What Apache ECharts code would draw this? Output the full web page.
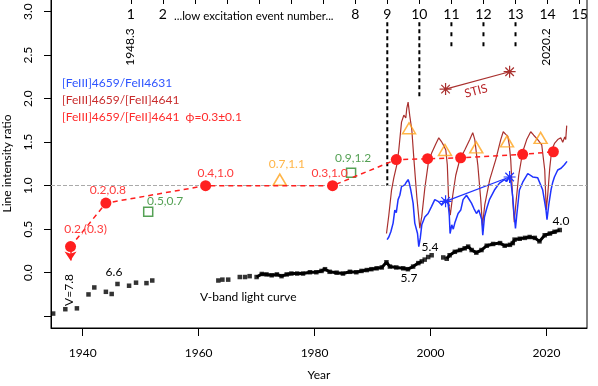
<!DOCTYPE html>
<html>
<head>
<meta charset="utf-8">
<script src="https://cdn.jsdelivr.net/npm/echarts@6/dist/echarts.min.js"></script>
<style>
  html, body { margin: 0; padding: 0; background: #fff; }
  #chart { width: 598px; height: 386px; }
</style>
</head>
<body>
<div id="chart"></div>
<script>
// top axis: low excitation event numbers, pinned by the two labelled epochs
var event1Year = 1948.3;
var event14Year = 2020.2;
var eventNumbers = [1, 2, 3, 4, 5, 6, 7, 8, 9, 10, 11, 12, 13, 14, 15];
var eventLabelNumbers = [1, 2, 8, 9, 10, 11, 12, 13, 14, 15];
var eventLineLong = [9, 10];
var eventLineLongBottom = [1.0, 2.02];
var eventLineShort = [11, 12, 13];
var eventLineShortBottom = [2.54, 2.54, 2.54];
var eventLineTop = 2.88;

var yearTicks = [1940, 1960, 1980, 2000, 2020];
var ratioTicks = [-0.5, 0, 0.5, 1, 1.5, 2, 2.5, 3];
var ratioLabels = [0, 0.5, 1, 1.5, 2, 2.5, 3];

// [FeIII]4659/[FeII]4641 at phase 0.3
var redYears = [1937.9, 1944.0, 1961.2, 1983.1, 1994.1, 1999.5, 2005.2, 2015.9, 2021.2];
var redRatio = [0.30, 0.80, 1.00, 1.00, 1.30, 1.31, 1.32, 1.36, 1.39];
var redLabels = ['0.2,(0.3)', '0.2,0.8', '0.4,1.0', '0.3,1.0', '', '', '', '', ''];

var greenYears = [1951.3, 1986.3];
var greenRatio = [0.70, 1.15];
var greenLabels = ['0.5,0.7', '0.9,1.2'];

var orangeYears = [1974.0, 1996.3, 2002.5, 2007.9, 2013.2, 2019.0];
var orangeRatio = [1.07, 1.66, 1.41, 1.44, 1.51, 1.55];
var orangeLabels = ['0.7,1.1', '', '', '', '', ''];

var stisYears = [2002.6, 2013.65];
var stisBlue = [0.82, 1.10];
var stisBrown = [2.11, 2.31];

// [FeIII]4659/[FeII]4641
var brownYears = [1992.41,1992.81,1993.28,1993.67,1994.19,1994.53,1995.00,1995.40,1995.74,1995.91,
  1996.14,1996.43,1996.78,1997.12,1997.64,1998.16,1998.50,1999.02,1999.62,2000.22,
  2000.91,2001.43,2001.86,2002.29,2002.64,2002.90,2003.16,2003.41,2003.84,2004.36,
  2005.05,2005.91,2006.78,2007.29,2007.64,2008.16,2008.67,2008.97,2009.36,2010.22,
  2011.26,2012.12,2012.55,2012.98,2013.33,2013.59,2013.84,2014.19,2014.45,2014.71,
  2015.22,2015.91,2016.60,2017.29,2017.81,2018.50,2019.19,2019.71,2019.97,2020.22,
  2020.57,2020.91,2021.43,2021.95,2022.47,2022.81,2023.16,2023.33,2023.50];
var brownRatio = [0.45,0.66,0.95,1.09,1.24,1.41,1.73,1.81,1.78,1.89,
  1.96,1.80,1.64,1.32,0.87,0.51,0.65,0.97,1.26,1.38,
  1.48,1.55,1.51,1.46,1.41,1.24,0.78,0.66,0.89,1.12,
  1.30,1.41,1.53,1.61,1.53,1.24,0.84,0.54,0.78,1.07,
  1.30,1.53,1.62,1.59,1.57,1.47,1.30,0.84,0.58,0.78,
  1.12,1.39,1.53,1.62,1.58,1.53,1.47,1.18,0.72,0.89,
  1.20,1.41,1.49,1.53,1.55,1.50,1.56,1.53,1.69];

// [FeIII]4659/FeII4631
var blueYears = [1992.52,1992.81,1993.16,1993.55,1993.84,1994.10,1994.41,1994.71,1995.00,1995.31,
  1995.57,1995.83,1996.14,1996.34,1996.60,1997.00,1997.29,1997.76,1997.98,1998.24,
  1998.50,1999.02,1999.59,2000.17,2000.74,2001.31,2001.90,2002.47,2003.03,2003.24,
  2003.38,2003.67,2003.93,2004.19,2004.76,2005.22,2005.62,2006.21,2006.60,2007.07,
  2007.47,2007.93,2008.33,2008.67,2008.84,2009.02,2009.31,2009.71,2010.17,2011.03,
  2011.90,2012.76,2013.16,2013.62,2013.90,2014.19,2014.36,2014.48,2014.66,2014.88,
  2015.34,2015.91,2016.78,2017.64,2018.50,2019.36,2019.93,2020.10,2020.40,2020.79,
  2021.09,2021.38,2021.69,2021.95,2022.29,2022.52,2022.81,2023.10,2023.33,2023.55];
var blueRatio = [0.38,0.41,0.47,0.57,0.72,0.69,0.84,0.89,0.99,0.97,
  1.01,1.04,1.07,1.03,0.95,0.80,0.57,0.45,0.30,0.40,
  0.55,0.64,0.68,0.76,0.84,0.82,0.78,0.84,0.80,0.66,
  0.45,0.55,0.50,0.57,0.68,0.72,0.84,0.89,0.85,0.80,
  0.74,0.68,0.72,0.74,0.61,0.43,0.64,0.74,0.84,0.95,
  1.03,1.07,1.05,1.10,1.03,0.87,0.72,0.64,0.51,0.66,
  0.95,1.04,1.14,1.10,1.09,0.95,0.72,0.61,0.78,0.95,
  1.04,1.10,1.08,1.18,1.16,1.20,1.18,1.24,1.22,1.28];

// V-band light curve, in plot units
var vYears = [1934.9,1937.0,1939.0,1941.0,1942.0,1944.0,1945.0,1946.0,1948.0,1949.2,1951.0,1952.0,
  1963.4,1964.1,1965.1,1967.1,1968.0,1968.8,1970.0,1970.9,1971.7,1972.6,
  1973.5,1974.3,1975.2,1976.0,1977.0,1978.0,1979.2,1980.3,1981.2,1981.8,
  1982.6,1983.8,1984.9,1986.1,1987.2,1988.1,1989.0,1989.8,1990.7,1991.6,
  1992.4,1993.0,1994.1,1995.3,1996.1,1997.0,1997.9,1998.5,1999.0,1999.6,2000.2,
  2002.2,2002.8,2003.3,2004.2,2005.1,2005.9,2006.5,2007.1,2007.9,2008.8,
  2009.7,2010.8,2012.0,2012.8,2013.7,2014.2,2014.5,2015.4,2016.3,2017.1,
  2018.0,2018.8,2019.7,2020.6,2021.4,2022.3];
var vLevel = [-0.47,-0.42,-0.41,-0.25,-0.17,-0.22,-0.245,-0.13,-0.15,-0.115,-0.12,-0.09,
  -0.09,-0.08,-0.08,-0.05,-0.05,-0.04,-0.05,-0.015,-0.02,-0.03,
  -0.02,-0.04,-0.02,-0.01,-0.01,-0.01,0.005,0.005,0.02,0.04,
  0.01,0.0,-0.01,0.01,0.005,0.02,0.03,0.04,0.05,0.06,
  0.12,0.07,0.06,0.05,0.04,0.07,0.11,0.13,0.15,0.18,0.20,
  0.175,0.16,0.20,0.24,0.26,0.28,0.30,0.26,0.23,0.26,
  0.31,0.33,0.34,0.31,0.32,0.34,0.38,0.39,0.40,0.41,
  0.40,0.36,0.43,0.45,0.47,0.49];

var xMin = 1934.53, xMax = 2027.0;
var yMin = -0.636, yMax = 3.146;
var FONT = 'Lato, "Liberation Sans", sans-serif';
var BLUE = '#1f33ff', BROWN = '#a9302e', RED = '#ff1f1f', ORANGE = '#ffa21a', GREEN = '#2b8a2b';

var yearsPerEvent = (event14Year - event1Year) / 13;
function toEvent(year) { return 1 + (year - event1Year) / yearsPerEvent; }

function pairs(xs, ys) { return xs.map(function (x, i) { return [x, ys[i]]; }); }

// labelled points, label offsets kept apart from values
function labelled(xs, ys, labels, offsets, color) {
  return xs.map(function (x, i) {
    return {
      value: [x, ys[i]],
      label: {
        show: !!labels[i], formatter: labels[i], position: 'inside',
        offset: offsets[i] || [0, 0], color: color, fontSize: 12, fontFamily: FONT
      }
    };
  });
}

// dense part of the light curve as a thick trace
var vDense = [];
vYears.forEach(function (y, i) {
  var dense = (y >= 1969.5 && y <= 1998.6) || y >= 2002.7;
  vDense.push(dense ? [y, vLevel[i]] : [y, null]);
});

var asterisk = 'path://M0,-10L0,10M-10,0L10,0M-7.1,-7.1L7.1,7.1M-7.1,7.1L7.1,-7.1';

function eventLine(n, bottom, dash) {
  return {
    type: 'line', xAxisIndex: 1, symbol: 'none', silent: true, z: 1,
    data: [[n, eventLineTop], [n, bottom]],
    lineStyle: { color: '#000', width: 2, type: dash }
  };
}

function txt(x, y, text, color, opts) {
  opts = opts || {};
  return {
    type: 'text', x: x, y: y, rotation: opts.rotation || 0,
    style: {
      text: text, fill: color, font: (opts.size || 12) + 'px ' + FONT,
      align: opts.align || 'center', textAlign: opts.align || 'center',
      verticalAlign: 'middle', textVerticalAlign: 'middle'
    }
  };
}

var myChart = echarts.init(document.getElementById('chart'));

var option = {
  animation: false,
  backgroundColor: '#fff',
  textStyle: { fontFamily: FONT },
  grid: {
    left: 51, right: 11, top: -1, bottom: 58, show: true, borderColor: '#000', borderWidth: 1,
    containLabel: false, outerBoundsMode: 'none'
  },
  xAxis: [{
    type: 'value', min: xMin, max: xMax, position: 'bottom',
    name: 'Year', nameLocation: 'middle', nameGap: 41,
    nameTextStyle: { color: '#000', fontSize: 12, fontFamily: FONT },
    axisLine: { show: true, onZero: false, lineStyle: { color: '#000' } },
    axisTick: { show: true, length: 8, customValues: yearTicks, lineStyle: { color: '#000' } },
    axisLabel: {
      customValues: yearTicks, margin: 19, color: '#000', fontSize: 12, fontFamily: FONT,
      formatter: function (v) { return String(v); }
    },
    splitLine: { show: false }
  }, {
    type: 'value', min: toEvent(xMin), max: toEvent(xMax), position: 'top',
    axisLine: { show: false, onZero: false },
    axisTick: { show: true, inside: true, length: 5, customValues: eventNumbers, lineStyle: { color: '#000' } },
    axisLabel: { inside: true, customValues: eventLabelNumbers, margin: 8, color: '#000', fontSize: 14, fontFamily: FONT },
    splitLine: { show: false }
  }],
  yAxis: {
    type: 'value', min: yMin, max: yMax,
    name: 'Line intensity ratio', nameLocation: 'middle', nameGap: 38, nameMoveOverlap: false,
    nameTextStyle: { color: '#000', fontSize: 12, fontFamily: FONT },
    axisLine: { show: true, onZero: false, lineStyle: { color: '#000' } },
    axisTick: { show: true, length: 7, customValues: ratioTicks, lineStyle: { color: '#000' } },
    axisLabel: {
      customValues: ratioLabels, rotate: 90, margin: 17, color: '#000', fontSize: 12, fontFamily: FONT,
      formatter: function (v) { return v.toFixed(1); }
    },
    splitLine: { show: false }
  },
  series: [
    {
      type: 'scatter', data: pairs(vYears, vLevel), symbol: 'rect', symbolSize: 4.5,
      itemStyle: { color: '#000' }, z: 2
    },
    {
      type: 'line', data: vDense, symbol: 'none', connectNulls: false,
      lineStyle: { color: '#000', width: 3 }, z: 2
    },
    eventLine(eventLineLong[0], eventLineLongBottom[0], [4, 3]),
    eventLine(eventLineLong[1], eventLineLongBottom[1], [4, 3]),
    eventLine(eventLineShort[0], eventLineShortBottom[0], [4, 6]),
    eventLine(eventLineShort[1], eventLineShortBottom[1], [4, 6]),
    eventLine(eventLineShort[2], eventLineShortBottom[2], [4, 6]),
    {
      type: 'line', data: pairs(brownYears, brownRatio), symbol: 'none',
      lineStyle: { color: BROWN, width: 1.2 }, z: 3
    },
    {
      type: 'line', data: pairs(blueYears, blueRatio), symbol: 'none',
      lineStyle: { color: BLUE, width: 1.5 }, z: 3,
      markLine: {
        silent: true, symbol: 'none', label: { show: false },
        lineStyle: { color: '#aaa', type: 'dashed', width: 1 },
        data: [{ yAxis: 1 }]
      }
    },
    {
      type: 'line', data: pairs(stisYears, stisBrown), symbol: asterisk, symbolSize: 12,
      lineStyle: { color: BROWN, width: 1.2 },
      itemStyle: { color: 'rgba(0,0,0,0)', borderColor: BROWN, borderWidth: 1.2 }, z: 4
    },
    {
      type: 'line', data: pairs(stisYears, stisBlue), symbol: asterisk, symbolSize: 12,
      lineStyle: { color: BLUE, width: 1.2 },
      itemStyle: { color: 'rgba(0,0,0,0)', borderColor: BLUE, borderWidth: 1.2 }, z: 4
    },
    {
      type: 'scatter', data: labelled(greenYears, greenRatio, greenLabels, [[17, -11], [2, -15]], GREEN),
      symbol: 'rect', symbolSize: 9,
      itemStyle: { color: 'rgba(0,0,0,0)', borderColor: GREEN, borderWidth: 1.5 }, z: 5
    },
    {
      type: 'scatter', data: labelled(orangeYears, orangeRatio, orangeLabels, [[7, -15]], ORANGE),
      symbol: 'triangle', symbolSize: [13, 11],
      itemStyle: { color: 'rgba(0,0,0,0)', borderColor: ORANGE, borderWidth: 1.5 }, z: 5
    },
    {
      type: 'line', data: labelled(redYears, redRatio, redLabels, [[15, -17], [2, -13], [10, -13], [-3, -13]], '#ff3b3b'),
      symbol: 'circle', symbolSize: 11, showSymbol: true,
      itemStyle: { color: RED },
      lineStyle: { color: RED, width: 1.5, type: [5, 4] }, z: 6,
      markLine: {
        silent: true, symbol: ['none', 'arrow'], symbolSize: 9, label: { show: false },
        lineStyle: { color: RED, width: 1.5, type: 'solid' },
        data: [[{ coord: [redYears[0], redRatio[0] - 0.03] }, { coord: [redYears[0], redRatio[0] - 0.16] }]]
      }
    }
  ],
  graphic: [
    txt(62, 83, '[FeIII]4659/FeII4631', '#2e55ff', { align: 'left' }),
    txt(62, 100.5, '[FeIII]4659/[FeII]4641', '#c92d2d', { align: 'left' }),
    txt(62, 117.5, '[FeIII]4659/[FeII]4641  \u03d5=0.3\u00b10.1', '#ff2b2b', { align: 'left' }),
    txt(174, 16, '...low excitation event number...', '#000', { align: 'left', size: 11.5 }),
    txt(130, 47, '1948.3', '#000', { rotation: Math.PI / 2 }),
    txt(546, 47, '2020.2', '#000', { rotation: Math.PI / 2 }),
    txt(476, 91, 'STIS', '#b8262a', { rotation: 15 * Math.PI / 180 }),
    txt(200, 297, 'V-band light curve', '#000', { align: 'left' }),
    txt(69, 290, 'V=7.8', '#000', { rotation: Math.PI / 2 }),
    txt(114, 272, '6.6', '#000'),
    txt(409, 278, '5.7', '#000'),
    txt(430, 247, '5.4', '#000'),
    txt(561, 221, '4.0', '#000')
  ]
};

myChart.setOption(option);
</script>
</body>
</html>
